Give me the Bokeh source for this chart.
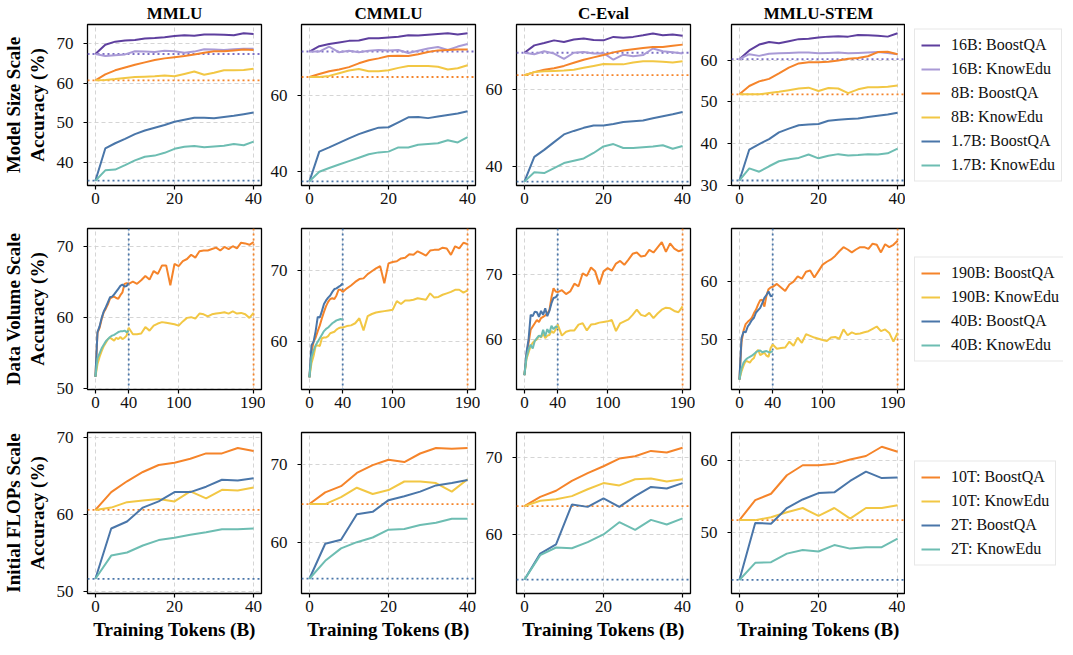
from bokeh.plotting import figure
from bokeh.layouts import row, column
from bokeh.models import Range1d, FixedTicker, Span, Legend, LegendItem
from bokeh.embed import file_html
from bokeh.resources import INLINE

# ---------------- data ----------------
BENCHMARKS = ["MMLU", "CMMLU", "C-Eval", "MMLU-STEM"]
ROW_LABELS = ["Model Size Scale\nAccuracy (%)",
              "Data Volume Scale\nAccuracy (%)",
              "Initial FLOPs Scale\nAccuracy (%)"]
X_LABEL = "Training Tokens (B)"

SIZE_NAMES = ["16B: BoostQA", "16B: KnowEdu", "8B: BoostQA", "8B: KnowEdu",
              "1.7B: BoostQA", "1.7B: KnowEdu"]
VOL_NAMES = ["190B: BoostQA", "190B: KnowEdu", "40B: BoostQA", "40B: KnowEdu"]
FLOPS_NAMES = ["10T: BoostQA", "10T: KnowEdu", "2T: BoostQA", "2T: KnowEdu"]

X_SIZE = [0, 2.5, 5, 7.5, 10, 12.5, 15, 17.5, 20, 22.5, 25, 27.5, 30, 32.5, 35, 37.5, 40]
X_VOL_SHORT = [0, 2.5, 5, 7.5, 10, 12.5, 15, 17.5, 20, 22.5, 25, 27.5, 30, 32.5, 35, 37.5, 40]
X_VOL_LONG = [0, 2.5, 5, 7.5, 10, 12.5, 15, 17.5, 20, 22.5, 25, 27.5, 30, 32.5, 35, 37.5, 40,
              45, 50, 55, 60, 65, 70, 75, 80, 85, 90, 95, 100, 105, 110, 115, 120, 125,
              130, 135, 140, 145, 150, 155, 160, 165, 170, 175, 180, 185, 190]
X_FLOPS = [0, 4, 8, 12, 16, 20, 24, 28, 32, 36, 40]

X_TICKS_40 = [0, 20, 40]
X_TICKS_190 = [0, 40, 100, 190]

# Row 1: model size
MMLU_16B_BQ = [67.3, 69.6, 70.4, 70.7, 70.8, 71.2, 71.3, 71.5, 71.8, 72.0, 71.9, 72.2, 72.2, 72.1, 72.0, 72.5, 72.3]
MMLU_16B_KE = [67.3, 66.8, 67.0, 67.2, 68.0, 67.9, 67.8, 68.1, 68.0, 67.6, 67.9, 68.5, 68.4, 68.3, 68.5, 68.6, 68.6]
MMLU_8B_BQ = [60.7, 62.2, 63.2, 63.9, 64.6, 65.2, 65.8, 66.2, 66.5, 66.8, 67.2, 67.6, 68.0, 68.0, 68.2, 68.4, 68.3]
MMLU_8B_KE = [60.7, 60.8, 61.0, 61.3, 61.5, 61.6, 61.7, 61.9, 61.7, 62.3, 62.9, 62.1, 62.6, 63.2, 63.2, 63.3, 63.6]
MMLU_17B_BQ = [35.5, 43.6, 44.9, 46.0, 47.2, 48.1, 48.8, 49.5, 50.3, 50.8, 51.3, 51.3, 51.2, 51.5, 51.8, 52.2, 52.6]
MMLU_17B_KE = [35.5, 38.1, 38.3, 39.4, 40.6, 41.5, 41.8, 42.5, 43.5, 44.0, 44.2, 43.9, 44.1, 44.3, 44.7, 44.4, 45.3]

CMMLU_16B_BQ = [71.6, 73.0, 73.6, 74.0, 74.4, 74.5, 75.1, 75.1, 75.3, 75.5, 75.9, 75.8, 76.0, 76.2, 76.4, 76.1, 76.4]
CMMLU_16B_KE = [71.6, 71.6, 72.9, 71.4, 71.8, 71.4, 71.8, 72.0, 71.9, 72.0, 71.2, 71.8, 72.4, 72.8, 72.0, 72.9, 73.6]
CMMLU_8B_BQ = [64.9, 65.7, 66.4, 66.9, 67.5, 68.5, 69.3, 69.8, 70.4, 70.5, 70.4, 70.9, 71.5, 71.9, 72.0, 72.1, 72.1]
CMMLU_8B_KE = [64.9, 64.9, 65.2, 65.9, 66.6, 67.0, 66.4, 66.4, 66.7, 67.3, 67.8, 67.8, 67.8, 67.6, 66.9, 67.2, 68.0]
CMMLU_17B_BQ = [37.5, 45.3, 46.4, 47.6, 48.8, 49.9, 50.8, 51.6, 51.7, 53.0, 54.3, 54.4, 54.1, 54.5, 54.9, 55.3, 55.9]
CMMLU_17B_KE = [37.5, 40.0, 41.0, 41.9, 42.8, 43.7, 44.6, 45.1, 45.3, 46.4, 46.4, 47.1, 47.3, 47.5, 48.3, 47.7, 49.1]

CEVAL_16B_BQ = [69.4, 71.3, 71.9, 72.6, 72.2, 72.8, 73.1, 72.7, 72.6, 73.5, 73.3, 73.5, 73.9, 74.4, 73.9, 74.1, 73.8]
CEVAL_16B_KE = [69.4, 69.0, 69.8, 69.2, 67.8, 69.4, 69.6, 69.2, 69.3, 67.6, 68.9, 68.5, 68.8, 70.5, 69.8, 69.5, 69.2]
CEVAL_8B_BQ = [63.6, 64.4, 65.0, 65.4, 66.0, 66.8, 67.6, 68.2, 68.8, 69.5, 70.0, 70.3, 70.6, 70.9, 70.9, 71.2, 71.5]
CEVAL_8B_KE = [63.6, 64.4, 64.6, 64.7, 64.8, 65.0, 65.5, 66.0, 66.5, 66.4, 66.4, 66.9, 67.2, 67.2, 67.1, 66.9, 67.2]
CEVAL_17B_BQ = [36.1, 42.5, 44.3, 46.3, 48.3, 49.2, 50.0, 50.6, 50.6, 51.0, 51.5, 51.7, 51.9, 52.5, 53.0, 53.5, 54.1]
CEVAL_17B_KE = [36.1, 38.5, 38.3, 39.6, 40.9, 41.5, 42.1, 43.5, 45.2, 45.8, 44.8, 44.8, 45.0, 45.2, 45.5, 44.6, 45.3]

STEM_16B_BQ = [60.2, 62.3, 63.7, 64.3, 64.0, 64.5, 65.0, 65.1, 65.4, 65.6, 65.7, 65.6, 66.0, 65.9, 65.8, 65.6, 66.4]
STEM_16B_KE = [60.2, 61.4, 61.0, 61.5, 61.6, 61.7, 61.8, 61.8, 61.6, 61.7, 61.8, 61.6, 61.7, 61.8, 61.9, 61.7, 61.4]
STEM_8B_BQ = [51.8, 53.8, 54.9, 55.5, 56.8, 58.2, 59.2, 59.5, 59.5, 59.6, 59.9, 60.3, 60.5, 60.9, 61.9, 62.0, 61.4]
STEM_8B_KE = [51.8, 51.8, 51.8, 52.1, 52.4, 52.8, 53.2, 53.4, 52.6, 53.3, 53.2, 52.1, 53.0, 53.5, 53.5, 53.6, 53.9]
STEM_17B_BQ = [31.2, 38.6, 39.9, 41.1, 42.7, 43.6, 44.4, 44.6, 44.7, 45.5, 45.7, 45.9, 46.0, 46.4, 46.7, 47.0, 47.4]
STEM_17B_KE = [31.2, 34.1, 33.3, 34.6, 35.8, 36.3, 36.6, 37.4, 36.5, 37.1, 37.5, 37.2, 37.3, 37.5, 37.4, 37.7, 38.8]

# Row 2: data volume
MMLU_190B_BQ = [51.7, 57.9, 58.6, 59.8, 60.8, 61.3, 61.9, 62.7, 62.9, 63.0, 62.8, 62.7, 63.2, 63.6, 64.8, 64.9, 64.8,
                65.1, 64.8, 65.3, 65.9, 65.4, 66.6, 66.2, 67.4, 67.4, 64.6, 67.6, 67.3, 68.0, 68.3, 68.9, 68.5,
                69.4, 69.5, 69.5, 69.7, 69.9, 69.5, 70.0, 69.7, 70.1, 69.8, 70.6, 70.5, 70.3, 70.7]
MMLU_190B_KE = [51.7, 53.5, 54.5, 55.3, 56.0, 56.5, 57.0, 57.2, 57.0, 56.8, 57.2, 57.0, 57.3, 57.0, 57.2, 57.5, 58.6,
                57.7, 57.7, 57.8, 58.7, 58.2, 58.9, 59.2, 59.4, 59.3, 59.2, 59.1, 58.9, 59.5, 60.0, 60.1, 59.9,
                60.6, 60.5, 60.2, 60.5, 60.6, 60.7, 60.8, 60.6, 60.9, 60.6, 60.7, 60.5, 60.0, 60.7]
MMLU_40B_BQ = [51.7, 58.0, 58.8, 60.0, 60.9, 61.5, 62.2, 62.9, 63.0, 63.3, 63.7, 64.1, 64.5, 64.7, 64.4, 64.5, 64.9]
MMLU_40B_KE = [51.7, 54.3, 55.0, 55.7, 56.2, 56.7, 57.0, 57.3, 57.5, 57.6, 57.8, 58.0, 58.1, 58.1, 58.2, 58.0, 58.2]

CMMLU_190B_BQ = [55.0, 58.5, 60.0, 60.6, 61.5, 62.3, 63.3, 64.2, 65.0, 65.6, 66.0, 66.1, 66.0, 66.5, 67.3, 67.3, 67.0,
                 67.5, 67.9, 68.4, 68.8, 68.9, 69.5, 69.9, 70.3, 70.6, 68.2, 71.0, 71.2, 71.3, 71.7, 71.8, 72.3,
                 72.2, 72.7, 72.4, 72.1, 72.8, 72.9, 72.9, 73.2, 73.1, 72.2, 73.4, 73.1, 73.9, 73.7]
CMMLU_190B_KE = [55.0, 57.0, 58.0, 59.4, 59.5, 59.4, 60.5, 60.6, 60.6, 60.8, 61.2, 61.3, 61.4, 61.7, 61.9, 62.0, 62.0,
                 62.2, 62.3, 62.6, 63.3, 61.6, 63.6, 63.9, 64.1, 64.2, 64.3, 64.4, 64.5, 65.7, 65.3, 65.8, 65.8,
                 65.9, 66.1, 66.0, 65.9, 66.8, 66.2, 66.3, 66.6, 66.8, 67.0, 67.3, 67.3, 66.9, 67.2]
CMMLU_40B_BQ = [55.0, 59.5, 60.0, 61.5, 63.5, 63.4, 64.3, 65.3, 65.8, 66.2, 66.5, 67.0, 67.4, 67.5, 67.7, 67.9, 68.2]
CMMLU_40B_KE = [55.0, 57.8, 58.8, 59.5, 60.0, 60.5, 61.0, 61.5, 61.8, 62.0, 62.3, 62.6, 62.8, 63.0, 63.1, 63.2, 63.1]

CEVAL_190B_BQ = [54.5, 57.6, 59.5, 61.5, 62.0, 62.5, 63.0, 62.7, 63.3, 63.5, 63.7, 64.0, 64.5, 66.5, 67.9, 67.4, 67.3,
                 67.6, 67.0, 67.4, 68.6, 68.2, 70.2, 69.8, 71.1, 70.5, 68.5, 70.5, 71.0, 70.6, 71.7, 72.1, 71.5,
                 72.3, 73.2, 73.4, 72.8, 72.9, 73.8, 73.4, 74.2, 75.0, 73.5, 74.8, 74.0, 73.6, 73.8]
CEVAL_190B_KE = [54.5, 57.0, 58.0, 59.0, 59.5, 59.8, 60.0, 60.6, 60.3, 61.0, 60.2, 60.6, 60.7, 61.3, 61.0, 61.5, 62.3,
                 60.6, 61.2, 61.4, 61.4, 62.3, 62.5, 61.4, 62.3, 62.4, 62.6, 62.7, 62.8, 63.0, 61.3, 62.5, 62.8,
                 63.1, 63.8, 64.6, 63.8, 63.6, 64.1, 63.3, 64.0, 64.6, 64.9, 64.8, 64.4, 64.2, 65.1]
CEVAL_40B_BQ = [54.5, 58.0, 60.0, 63.8, 63.6, 64.3, 64.2, 63.5, 64.4, 63.8, 64.8, 63.6, 64.4, 65.6, 66.4, 66.5, 66.9]
CEVAL_40B_KE = [54.5, 57.2, 58.5, 59.2, 58.6, 59.8, 60.2, 60.6, 60.4, 61.5, 60.5, 61.6, 61.0, 62.1, 61.6, 62.0, 61.9]

STEM_190B_BQ = [43.1, 49.5, 51.5, 52.6, 53.0, 53.3, 53.7, 54.5, 55.1, 56.0, 56.7, 56.8, 55.6, 57.5, 58.6, 58.9, 59.0,
                59.5, 58.9, 58.3, 59.4, 59.9, 60.8, 60.4, 61.6, 61.8, 60.6, 61.7, 62.8, 63.3, 63.7, 64.3, 65.1,
                65.8, 65.4, 64.9, 65.4, 65.8, 65.8, 65.5, 66.4, 66.2, 64.9, 66.3, 65.8, 66.2, 66.9]
STEM_190B_KE = [43.1, 44.5, 45.5, 46.3, 46.2, 46.0, 46.5, 46.8, 47.8, 48.2, 47.3, 47.5, 47.7, 47.2, 47.0, 48.5, 49.1,
                48.4, 48.5, 48.6, 49.6, 48.9, 50.3, 49.4, 50.9, 50.6, 50.3, 50.1, 49.9, 49.7, 50.3, 50.4, 50.1,
                51.7, 50.7, 51.2, 50.9, 51.0, 51.2, 51.4, 51.8, 52.2, 51.4, 51.7, 51.1, 49.6, 51.1]
STEM_40B_BQ = [43.1, 50.2, 51.3, 51.2, 52.2, 52.7, 53.3, 53.7, 54.6, 55.0, 55.4, 56.2, 57.1, 57.6, 58.2, 57.4, 57.5]
STEM_40B_KE = [43.1, 45.0, 46.0, 46.5, 46.8, 47.0, 47.2, 47.5, 47.8, 48.0, 48.1, 47.8, 47.9, 48.0, 47.8, 47.8, 48.0]

# Row 3: initial FLOPs
MMLU_10T_BQ = [60.6, 62.9, 64.3, 65.5, 66.4, 66.7, 67.2, 67.9, 67.9, 68.6, 68.2]
MMLU_10T_KE = [60.6, 60.9, 61.6, 61.8, 62.0, 61.7, 63.0, 62.1, 63.2, 63.1, 63.5]
MMLU_2T_BQ = [51.7, 58.2, 59.1, 60.9, 61.7, 62.9, 62.9, 63.6, 64.5, 64.4, 64.7]
MMLU_2T_KE = [51.7, 54.7, 55.1, 56.0, 56.7, 57.0, 57.4, 57.7, 58.1, 58.1, 58.2]
CMMLU_10T_BQ = [64.9, 66.4, 67.2, 68.9, 69.9, 70.6, 70.3, 71.4, 72.1, 72.0, 72.1]
CMMLU_10T_KE = [64.9, 64.9, 65.8, 67.0, 66.2, 66.7, 67.8, 67.8, 67.6, 66.5, 68.1]
CMMLU_2T_BQ = [55.3, 59.8, 60.3, 63.6, 63.9, 65.4, 65.9, 66.5, 67.3, 67.6, 68.0]
CMMLU_2T_KE = [55.3, 57.6, 59.2, 60.0, 60.6, 61.6, 61.7, 62.2, 62.5, 63.0, 63.0]
CEVAL_10T_BQ = [63.7, 64.9, 65.7, 67.0, 68.0, 68.9, 69.9, 70.2, 70.9, 70.7, 71.3]
CEVAL_10T_KE = [63.7, 64.4, 64.6, 65.0, 65.9, 66.7, 66.4, 67.2, 67.3, 66.9, 67.2]
CEVAL_2T_BQ = [54.1, 57.5, 58.7, 63.9, 63.6, 64.7, 63.6, 65.0, 66.2, 66.0, 66.7]
CEVAL_2T_KE = [54.1, 57.3, 58.3, 58.2, 59.0, 60.0, 61.6, 60.6, 61.9, 61.3, 62.1]
STEM_10T_BQ = [51.7, 54.5, 55.4, 58.0, 59.4, 59.4, 59.6, 60.2, 60.7, 62.0, 61.3]
STEM_10T_KE = [51.7, 51.7, 52.1, 52.8, 53.4, 52.3, 53.4, 51.9, 53.4, 53.4, 53.8]
STEM_2T_BQ = [43.3, 51.3, 51.2, 53.4, 54.6, 55.5, 55.6, 57.2, 58.5, 57.6, 57.7]
STEM_2T_KE = [43.3, 45.7, 45.8, 47.0, 47.5, 47.3, 48.2, 47.7, 47.9, 47.9, 49.1]

# axis limits and ticks per panel (row-major)
Y_LIMITS = [[(34.3, 74.7), (36.4, 78.7), (35.1, 76.7), (30.0, 68.5)],
            [(49.9, 72.6), (53.3, 75.9), (52.3, 77.1), (41.4, 69.0)],
            [(49.8, 70.6), (53.4, 74.1), (52.3, 73.3), (41.4, 64.0)]]
Y_TICKS = [[[40, 50, 60, 70], [40, 60], [40, 60], [30, 40, 50, 60]],
           [[50, 60, 70], [60, 70], [60, 70], [50, 60]],
           [[50, 60, 70], [60, 70], [60, 70], [50, 60]]]

# ---------------- style ----------------
C_PURPLE = "#5e3f9e"
C_LAVENDER = "#a99ad6"
C_ORANGE = "#f5842a"
C_YELLOW = "#f2c744"
C_BLUE = "#4a76a9"
C_TEAL = "#6dbdb2"
C_PURPLE_DOT = "#7c6fc4"
FONT = "Liberation Serif"
FRAME_W, FRAME_H = 174, 161
TITLE_H = 17

SIZE_COLORS = [C_PURPLE, C_LAVENDER, C_ORANGE, C_YELLOW, C_BLUE, C_TEAL]
PAIR_COLORS = [C_ORANGE, C_YELLOW, C_BLUE, C_TEAL]

SIZE_DATA = [
    [MMLU_16B_BQ, MMLU_16B_KE, MMLU_8B_BQ, MMLU_8B_KE, MMLU_17B_BQ, MMLU_17B_KE],
    [CMMLU_16B_BQ, CMMLU_16B_KE, CMMLU_8B_BQ, CMMLU_8B_KE, CMMLU_17B_BQ, CMMLU_17B_KE],
    [CEVAL_16B_BQ, CEVAL_16B_KE, CEVAL_8B_BQ, CEVAL_8B_KE, CEVAL_17B_BQ, CEVAL_17B_KE],
    [STEM_16B_BQ, STEM_16B_KE, STEM_8B_BQ, STEM_8B_KE, STEM_17B_BQ, STEM_17B_KE],
]
VOL_DATA = [
    [MMLU_190B_BQ, MMLU_190B_KE, MMLU_40B_BQ, MMLU_40B_KE],
    [CMMLU_190B_BQ, CMMLU_190B_KE, CMMLU_40B_BQ, CMMLU_40B_KE],
    [CEVAL_190B_BQ, CEVAL_190B_KE, CEVAL_40B_BQ, CEVAL_40B_KE],
    [STEM_190B_BQ, STEM_190B_KE, STEM_40B_BQ, STEM_40B_KE],
]
FLOPS_DATA = [
    [MMLU_10T_BQ, MMLU_10T_KE, MMLU_2T_BQ, MMLU_2T_KE],
    [CMMLU_10T_BQ, CMMLU_10T_KE, CMMLU_2T_BQ, CMMLU_2T_KE],
    [CEVAL_10T_BQ, CEVAL_10T_KE, CEVAL_2T_BQ, CEVAL_2T_KE],
    [STEM_10T_BQ, STEM_10T_KE, STEM_2T_BQ, STEM_2T_KE],
]


def make_panel(ri, ci, xr):
    first, last = ci == 0, ci == 3
    kw = dict(frame_width=FRAME_W, frame_height=FRAME_H,
              x_range=Range1d(*xr), y_range=Range1d(*Y_LIMITS[ri][ci]),
              output_backend="svg", toolbar_location=None,
              min_border_left=81 if first else 36,
              min_border_right=(4 if first else 5) if not last else 0,
              min_border_top=0 if ri == 0 else 14,
              min_border_bottom=29 if ri < 2 else 0,
              background_fill_color="white", border_fill_color="white")
    if ri == 0:
        kw["title"] = BENCHMARKS[ci]
    p = figure(**kw)
    if ri == 0:
        p.title.align = "center"
        p.title.text_font = FONT
        p.title.text_font_size = "17px"
        p.title.text_font_style = "bold"
        p.title.text_color = "black"
        p.title.standoff = 3
    p.outline_line_color = "black"
    p.outline_line_width = 1.3
    p.outline_line_alpha = 1.0
    for ax in p.axis:
        ax.axis_line_color = None
        ax.major_tick_line_color = "black"
        ax.major_tick_line_width = 1.2
        ax.major_tick_in = 0
        ax.major_tick_out = 4
        ax.minor_tick_line_color = None
        ax.major_label_text_font = FONT
        ax.major_label_text_font_size = "17px"
        ax.major_label_text_color = "#111111"
        ax.axis_label_text_font = FONT
        ax.axis_label_text_font_size = "19px"
        ax.axis_label_text_font_style = "bold"
        ax.axis_label_text_color = "black"
    p.yaxis.major_label_standoff = 10
    p.xaxis.major_label_standoff = 3
    p.yaxis.ticker = FixedTicker(ticks=Y_TICKS[ri][ci])
    p.xaxis.ticker = FixedTicker(ticks=X_TICKS_190 if ri == 1 else X_TICKS_40)
    for g in (p.xgrid, p.ygrid):
        g.grid_line_color = "#d0d0d0"
        g.grid_line_width = 0.9
        g.grid_line_dash = "4 3"
    if first:
        p.yaxis.axis_label = ROW_LABELS[ri]
        p.yaxis.axis_label_standoff = 6
        p.yaxis.axis_label_text_line_height = 1.1
    if ri == 2:
        p.xaxis.axis_label = X_LABEL
        p.xaxis.axis_label_standoff = 4
    return p


def legend_panel(ri, names, xs_list, series, colors):
    """Axis-less figure right of the row holding the legend; its ranges keep
    the series themselves out of view so only the legend shows."""
    lp = figure(frame_width=158, frame_height=FRAME_H,
                x_range=Range1d(-1001, -1000), y_range=Range1d(-1001, -1000),
                x_axis_type=None, y_axis_type=None,
                output_backend="svg", toolbar_location=None,
                min_border_left=0, min_border_right=0,
                min_border_top=TITLE_H if ri == 0 else 14,
                min_border_bottom=29 if ri < 2 else 0,
                background_fill_color="white", border_fill_color="white")
    lp.outline_line_color = None
    items = []
    for name, xs, ys, col in zip(names, xs_list, series, colors):
        r = lp.line(xs, ys, line_color=col, line_width=2.0)
        items.append(LegendItem(label=name, renderers=[r]))
    lg = Legend(items=items, location="center_left", orientation="vertical")
    lg.ncols = 1
    lg.label_text_font = FONT
    lg.label_text_font_size = "16px"
    lg.label_text_color = "#111111"
    lg.glyph_width = 19
    lg.glyph_height = 19
    lg.label_height = 19
    lg.label_standoff = 11
    lg.spacing = 5
    lg.padding = 6
    lg.margin = 9
    lg.border_line_color = "#d0d0d0"
    lg.border_line_width = 1
    lg.background_fill_color = "white"
    lg.background_fill_alpha = 1.0
    lp.add_layout(lg)
    return lp


def dotted_h(p, val, color):
    p.add_layout(Span(location=val, dimension="width", line_color=color,
                      line_width=1.8, line_dash="2 3", level="underlay"))


def dotted_v(p, val, color):
    p.add_layout(Span(location=val, dimension="height", line_color=color,
                      line_width=1.8, line_dash="2 3", level="underlay"))


rows = []
# Row 1
figs = []
for ci in range(4):
    p = make_panel(0, ci, (-2, 42))
    series = SIZE_DATA[ci]
    dotted_h(p, series[0][0], C_PURPLE_DOT)
    dotted_h(p, series[2][0], C_ORANGE)
    dotted_h(p, series[4][0], C_BLUE)
    for ys, col in zip(series, SIZE_COLORS):
        p.line(X_SIZE, ys, line_color=col, line_width=2.0)
    figs.append(p)
figs.append(legend_panel(0, SIZE_NAMES, [X_SIZE] * 6, SIZE_DATA[3], SIZE_COLORS))
rows.append(row(*figs))

# Row 2
VOL_X = [X_VOL_LONG, X_VOL_LONG, X_VOL_SHORT, X_VOL_SHORT]
figs = []
for ci in range(4):
    p = make_panel(1, ci, (-9.5, 199.5))
    series = VOL_DATA[ci]
    dotted_v(p, X_VOL_SHORT[-1], C_BLUE)
    dotted_v(p, X_VOL_LONG[-1], C_ORANGE)
    for xs, ys, col in zip(VOL_X, series, PAIR_COLORS):
        p.line(xs, ys, line_color=col, line_width=2.0)
    figs.append(p)
figs.append(legend_panel(1, VOL_NAMES, VOL_X, VOL_DATA[3], PAIR_COLORS))
rows.append(row(*figs))

# Row 3
figs = []
for ci in range(4):
    p = make_panel(2, ci, (-2, 42))
    series = FLOPS_DATA[ci]
    dotted_h(p, series[0][0], C_ORANGE)
    dotted_h(p, series[2][0], C_BLUE)
    for ys, col in zip(series, PAIR_COLORS):
        p.line(X_FLOPS, ys, line_color=col, line_width=2.0)
    figs.append(p)
figs.append(legend_panel(2, FLOPS_NAMES, [X_FLOPS] * 4, FLOPS_DATA[3], PAIR_COLORS))
rows.append(row(*figs))

layout = column(*rows)
open("out.html", "w").write(file_html(layout, INLINE))
